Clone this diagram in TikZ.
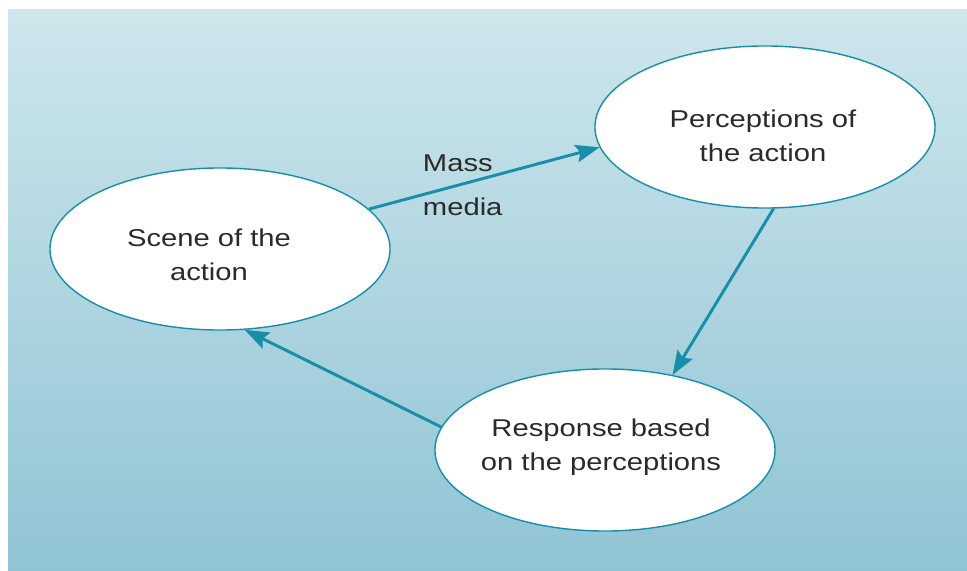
\documentclass[tikz,border=0pt]{standalone}
\usepackage{fontspec}
\setmainfont{Liberation Sans}[FakeStretch=1.2]
\usepackage{tikz}
\usetikzlibrary{arrows.meta,shapes.geometric,positioning}
\definecolor{bgtop}{RGB}{206,230,236}
\definecolor{bgbottom}{RGB}{144,196,212}
\definecolor{arrowteal}{RGB}{24,142,168}
\definecolor{txtgray}{RGB}{42,42,42}
\tikzstyle{bubble} = [ellipse, draw=arrowteal, line width=1pt, fill=white, inner sep=0pt, minimum width=8.5cm, minimum height=4.05cm]
\tikzstyle{bubbletext} = [align=center, text=txtgray, font=\fontsize{17.3}{24.5}\selectfont]
\tikzstyle{arrow} = [line width=2.1pt, draw=arrowteal, -{Stealth[length=6mm,width=4.4mm,inset=1mm]}]

\begin{document}
\begin{tikzpicture}[x=0.025cm,y=-0.025cm]
        \useasboundingbox (0,0) rectangle (967,571);
        \shade[top color=bgtop, bottom color=bgbottom] (8,10) rectangle (967,571);
        \node[bubble] (scene) at (220,249) {};
        \node[bubble] (percep) at (765,127) {};
        \node[bubble] (resp) at (605,450) {};
        \node[bubbletext] (scenetext) at (209,255) {Scene of the\\action};
        \node[bubbletext] (perceptext) at (763,136) {Perceptions of\\the action};
        \node[bubbletext] (resptext) at (601,447) {Response based\\on the perceptions};
        \node[bubbletext, anchor=west, align=left, font=\fontsize{17.3}{31}\selectfont] (media) at (418,185) {Mass\\media};
        \draw[arrow] (scene.15.6) -- (percep.187);
        \draw[arrow] (percep.276) -- (resp.48.5);
        \draw[arrow] (resp.172.4) -- (scene.287);
    \end{tikzpicture}
\end{document}
